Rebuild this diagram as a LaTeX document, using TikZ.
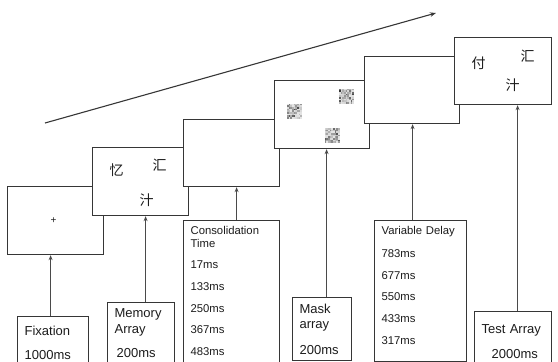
\documentclass[tikz,border=0pt]{standalone}
\usepackage{fontspec}
\setmainfont{Liberation Sans}
\newfontfamily\cjk{Noto Sans CJK SC}
\usepackage{xcolor}
\usepackage{tikz}
\usetikzlibrary{arrows.meta,positioning,calc}
\definecolor{edge}{HTML}{363636}
\definecolor{stem}{HTML}{4A4A4A}
\definecolor{ink}{HTML}{1C1C1C}
\tikzset{
  screen/.style={
    rectangle, draw=edge, fill=white, line width=1.2pt,
    minimum width=96pt, minimum height=68pt,
    anchor=north west, inner sep=0pt
  },
  infobox/.style={
    rectangle, draw=edge, fill=white, line width=1.2pt,
    anchor=north west, align=left, text width=#1,
    inner xsep=7pt, inner ysep=6pt,
    font=\fontsize{13}{15.6}\selectfont, text=ink
  },
  infobox/.default=57pt,
  listbox/.style={
    infobox=#1, font=\fontsize{11.3}{13.56}\selectfont
  },
  cjkchar/.style={
    font=\cjk\fontsize{14}{14}\selectfont, text=ink, inner sep=0pt
  },
  onset/.style={
    -{Stealth[length=5pt,width=4pt]}, line width=1.1pt, color=stem
  },
  timeline/.style={
    -{Stealth[length=6pt,width=4.5pt]}, line width=1.1pt, color=edge
  },
  % ── scrambled character used in the mask screen ──
  maskblob/.pic={
    \fill[black!15] (-7.5,-7.5) rectangle (7.5,7.5);
    \foreach \i in {0,...,8}{
      \foreach \j in {0,...,8}{
        \pgfmathsetmacro{\shade}{int(10+75*rnd*rnd)}
        \fill[black!\shade] (-7.5+\i*15/9,-7.5+\j*15/9) rectangle ++(15/9,15/9);
      }
    }
  },
}

\begin{document}
\begin{tikzpicture}[x=1pt, y=-1pt]
  \pgfmathsetseed{23}
  \useasboundingbox (0,0) rectangle (558,362);
  \clip (0,0) rectangle (558,362);

  % Time axis
  \coordinate (tstart) at (45,123);
  \coordinate (tend) at (436,13);
  \draw[timeline] (tstart) -- (tend);

  % Screens, each one laid over the previous one
  \node[screen] (fixscr) at (7,186) {};
  \node[font=\fontsize{10}{10}\selectfont, text=ink, inner sep=0pt] (cross) at (53.5,220.5) {+};

  \node[screen] (memscr) at (92,147) {};
  \node[cjkchar] (mem1) at (116.5,170) {忆};
  \node[cjkchar] (mem2) at (159.5,165.5) {汇};
  \node[cjkchar] (mem3) at (146.5,200.5) {汁};

  \node[screen, minimum height=67pt] (conscr) at (183,119) {};

  \node[screen, minimum width=95pt] (maskscr) at (274,80) {};
  \pic at (294.5,111) {maskblob};
  \pic at (346.5,96) {maskblob};
  \pic at (332,135.5) {maskblob};

  \node[screen, minimum width=95pt, minimum height=67pt] (delscr) at (364,56) {};

  \node[screen, minimum width=97pt, minimum height=67pt] (testscr) at (454,37) {};
  \node[cjkchar] (test1) at (478.5,63.5) {付};
  \node[cjkchar] (test2) at (527.5,56.5) {汇};
  \node[cjkchar] (test3) at (512.5,85) {汁};

  % Timing boxes
  \node[infobox, inner ysep=9pt] (fixlbl) at (17,316) {Fixation\\[8.9pt]1000ms\\\mbox{}};
  \node[infobox=53pt] (memlbl) at (107,302) {Memory\\Array\\[9pt]\hspace{2pt}200ms\\\mbox{}};
  \node[listbox=82pt] (conlbl) at (183,220)
    {Consolidation\\[-0.5pt]Time\\[7.5pt]17ms\\[8.1pt]133ms\\[8.1pt]250ms\\[8.1pt]367ms\\[8.1pt]483ms\\\mbox{}};
  \node[infobox=45pt] (masklbl) at (292,297) {Mask\\[-0.5pt]array\\[10.4pt]200ms};
  \node[listbox=78pt] (dellbl) at (374,220)
    {Variable Delay\\[9.5pt]783ms\\[8pt]677ms\\[8pt]550ms\\[8pt]433ms\\[8pt]317ms\\[-2.5pt]\mbox{}};
  \node[infobox=63pt] (testlbl) at (474,311)
    {\hspace{6pt}\mbox{Test Array}\\[9.9pt]\hspace{10pt}2000ms};

  % Onset arrows
  \draw[onset] ([xshift=-2.5pt]fixlbl.north) -- ([xshift=-2.5pt]fixlbl.north |- fixscr.south);
  \draw[onset] ([xshift=4.5pt]memlbl.north) -- ([xshift=4.5pt]memlbl.north |- memscr.south);
  \draw[onset] ([xshift=5pt]conlbl.north) -- ([xshift=5pt]conlbl.north |- conscr.south);
  \draw[onset] ([xshift=4.5pt]masklbl.north) -- ([xshift=4.5pt]masklbl.north |- maskscr.south);
  \draw[onset] ([xshift=-8pt]dellbl.north) -- ([xshift=-8pt]dellbl.north |- delscr.south);
  \draw[onset] ([xshift=4.5pt]testlbl.north) -- ([xshift=4.5pt]testlbl.north |- testscr.south);
\end{tikzpicture}
\end{document}
